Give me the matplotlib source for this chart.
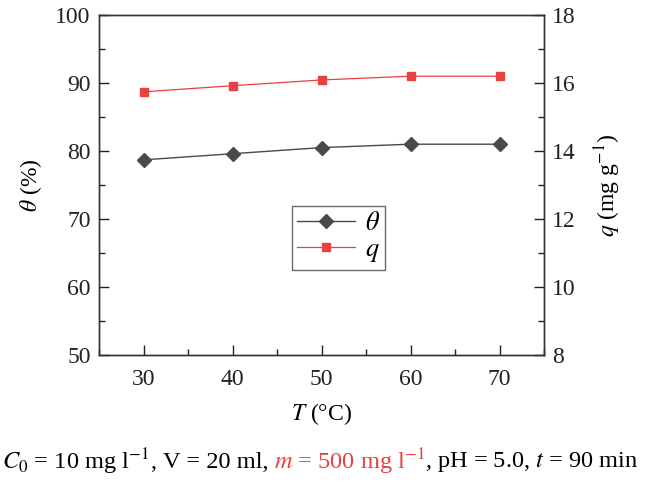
import matplotlib
matplotlib.use("Agg")
import matplotlib.pyplot as plt
from matplotlib.ticker import MultipleLocator

plt.rcParams['font.family'] = ['Liberation Serif', 'DejaVu Serif']
plt.rcParams['mathtext.fontset'] = 'stix'

T = [30, 40, 50, 60, 70]
theta = [78.7, 79.6, 80.5, 81.0, 81.0]
q = [15.74, 15.92, 16.09, 16.2, 16.2]

gray = '#4a4a4a'
red = '#e8413f'

fig = plt.figure(figsize=(6.5, 4.84), dpi=100)
ax = fig.add_axes([99/650, 1-355/484, 445/650, 340/484])
ax2 = ax.twinx()

l1, = ax.plot(T, theta, color=gray, lw=1.0, marker='D', ms=7, mfc=gray, mec=gray)
l2, = ax2.plot(T, q, color=red, lw=0.9, marker='s', ms=6, mfc=red, mec=red)

ax.set_xlim(25, 75)
ax.set_ylim(50, 100)
ax2.set_ylim(8, 18)
ax.xaxis.set_major_locator(MultipleLocator(10))
ax.xaxis.set_minor_locator(MultipleLocator(5))
ax.yaxis.set_major_locator(MultipleLocator(10))
ax.yaxis.set_minor_locator(MultipleLocator(5))
ax2.yaxis.set_major_locator(MultipleLocator(2))
ax2.yaxis.set_minor_locator(MultipleLocator(1))

for a in (ax, ax2):
    a.tick_params(which='major', direction='in', length=7, width=1.0, labelsize=17, colors='#222222')
    a.tick_params(which='minor', direction='in', length=4, width=1.0, colors='#222222')
    for s in a.spines.values():
        s.set_linewidth(1.0)
        s.set_color('#333333')
ax.tick_params(axis='x', pad=10)
ax.tick_params(axis='y', pad=6)
ax2.tick_params(axis='y', pad=6)

ax.set_xlabel(r'$T$ (°C)', fontsize=17, labelpad=8)
ax.set_ylabel(r'$\theta$ (%)', fontsize=17, labelpad=8)
ax2.set_ylabel(r'$q$ (mg g$^{-1}$)', fontsize=17, labelpad=12)

leg = ax.legend([l1, l2], [r'$\theta$', r'$q$'], loc='upper left',
                bbox_to_anchor=(193/445, 1-(206-15)/340), fontsize=19,
                frameon=True, fancybox=False, handlelength=2.2,
                borderpad=0.2, labelspacing=0.12, handletextpad=0.35,
                borderaxespad=0)
leg.get_frame().set_edgecolor('#444444')
leg.get_frame().set_linewidth(1.0)

# footer with mixed colors
y = 1 - 462/484
fs = 17.6
parts = [
    (r'$C_0$ = 10 mg l$^{-1}$,', 'black'),
    (r'V = 20 ml,', 'black'),
    (r'$m$ = 500 mg l$^{-1}$', red),
    (r', pH = 5.0, $t$ = 90 min', 'black'),
]
gaps = [True, True, False, False]
fig.canvas.draw()
renderer = fig.canvas.get_renderer()
sp = fig.text(0, 0, 'a a', fontsize=fs)
sw = (sp.get_window_extent(renderer=renderer).width)
sp2 = fig.text(0, 0, 'aa', fontsize=fs)
sw -= sp2.get_window_extent(renderer=renderer).width
sp.remove(); sp2.remove()
x = 2/650
for (txt, col), g in zip(parts, gaps):
    t = fig.text(x, y, txt, color=col, fontsize=fs, ha='left', va='center')
    bb = t.get_window_extent(renderer=renderer)
    x += bb.width / fig.bbox.width
    if g:
        x += sw / fig.bbox.width

fig.savefig('out.png', dpi=100)
